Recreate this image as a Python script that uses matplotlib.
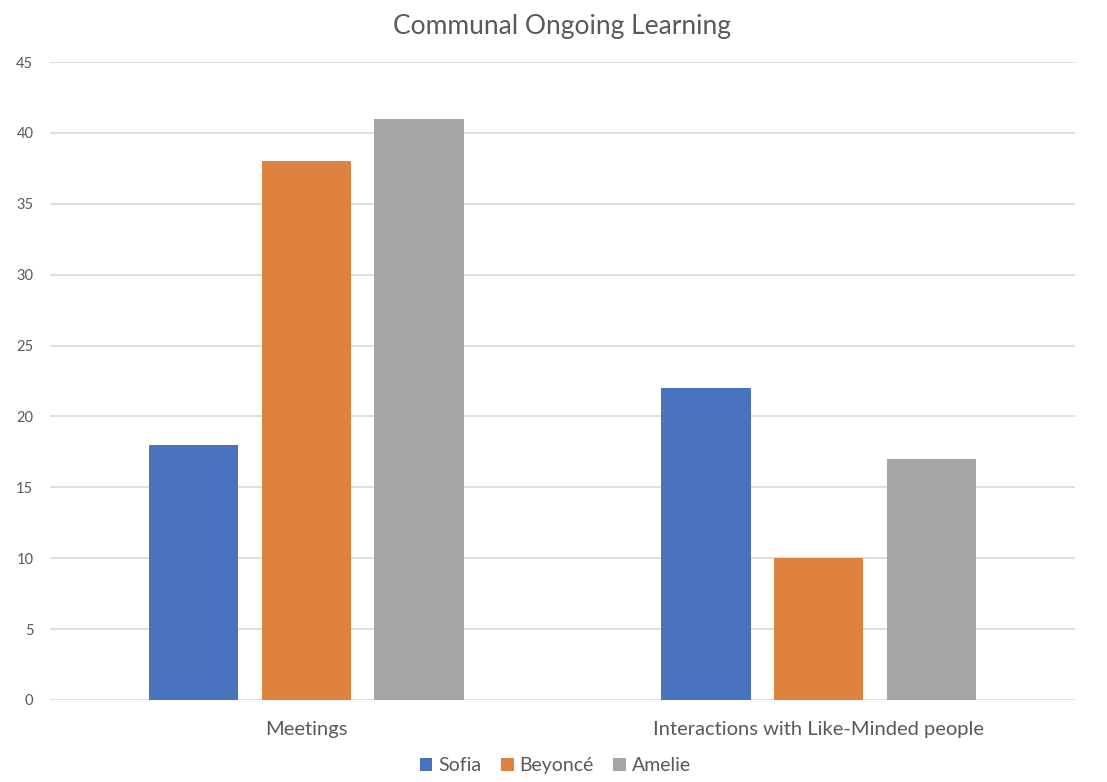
import numpy as np
import matplotlib.pyplot as plt

categories = ["Meetings", "Interactions with Like-Minded people"]
series_names = ["Sofia", "Beyoncé", "Amelie"]
sofia = [18, 22]
beyonce = [38, 10]
amelie = [41, 17]
colors = ["#4A73BE", "#E0823F", "#A5A5A5"]

plt.rcParams['font.family'] = ['Lato', 'DejaVu Sans']

fig = plt.figure(figsize=(11.07, 7.82), dpi=100)
ax = fig.add_axes([0.0452, 0.1049, 0.9258, 0.8158])

x = np.arange(len(categories))
width = 0.174
step = 0.22
for i, (vals, name, c) in enumerate(zip([sofia, beyonce, amelie], series_names, colors)):
    ax.bar(x + (i - 1) * step, vals, width, color=c, label=name, zorder=3)

ax.set_xlim(-0.5, 1.5)
ax.set_ylim(0, 45)
ax.set_yticks(np.arange(0, 46, 5))
ax.set_xticks(x)
ax.set_xticklabels(categories, fontsize=14.5, color="#595959")
ax.tick_params(axis='y', labelsize=10.5, colors="#595959", length=0, pad=12)
ax.tick_params(axis='x', length=0, pad=15)
ax.grid(axis='y', color="#D9D9D9", linewidth=1.2, zorder=0)
for s in ax.spines.values():
    s.set_visible(False)

ax.set_title("Communal Ongoing Learning", fontsize=19, color="#595959", pad=20)

ax.legend(loc='upper center', bbox_to_anchor=(0.493, -0.062), ncol=3, frameon=False,
          fontsize=14, labelcolor="#595959", handlelength=0.65, handleheight=0.65,
          handletextpad=0.3, columnspacing=1.0)

fig.savefig("out.png", dpi=100)
